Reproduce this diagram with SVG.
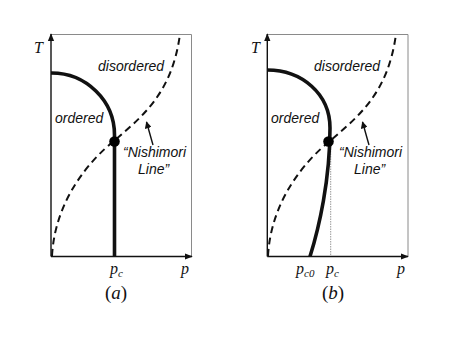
<svg xmlns="http://www.w3.org/2000/svg" width="450" height="344" viewBox="0 0 450 344">
<defs>
<style>
.frame{fill:none;stroke:#8a8a8a;stroke-width:1}
.axis{fill:none;stroke:#111;stroke-width:1.4}
.phase{fill:none;stroke:#111;stroke-width:3.6;stroke-linecap:butt}
.nish{fill:none;stroke:#111;stroke-width:2;stroke-dasharray:7,4.5}
.dot{fill:#000}
.guide{fill:none;stroke:#999;stroke-width:1;stroke-dasharray:1.5,1}
.lbl{font-family:"Liberation Sans",Arial,sans-serif;font-style:italic;font-size:14px;fill:#111}
.math{font-family:"Liberation Serif","Times New Roman",serif;font-style:italic;font-size:16px;fill:#111}
.sub{font-size:11px}
.cap{font-family:"Liberation Serif","Times New Roman",serif;font-size:19px;fill:#111}
.ptr{fill:none;stroke:#111;stroke-width:1.4}
</style>
<marker id="ah" viewBox="0 0 10 10" refX="9" refY="5" markerWidth="7" markerHeight="7" markerUnits="userSpaceOnUse" orient="auto">
<path d="M0,0 L10,5 L0,10 z" fill="#111"/>
</marker>
<marker id="ax" viewBox="0 0 10 10" refX="9" refY="5" markerWidth="8" markerHeight="8" markerUnits="userSpaceOnUse" orient="auto">
<path d="M0,1 L10,5 L0,9 z" fill="#111"/>
</marker>
</defs>

<g id="panel-a">
<g id="a-frame">
<path class="frame" d="M51,34.5 H191.5 V256.5"/>
<line class="axis" x1="51" y1="256.5" x2="51" y2="34" marker-end="url(#ax)"/>
<line class="axis" x1="51" y1="256.5" x2="192" y2="256.5" marker-end="url(#ax)"/>
</g>
<g id="a-connectors">
<path class="nish" d="M52,256 C55,200 90,160 114,141 C140,118 172,95 180,34"/>
<path class="phase" d="M51,73 A63,62 0 0 1 114.5,135 V256.5"/>
<line class="ptr" x1="153" y1="145" x2="146.5" y2="122" marker-end="url(#ah)"/>
</g>
<g id="a-critical"><circle class="dot" cx="114.5" cy="141.5" r="5.3"/></g>
<g id="a-labels">
<text class="math" x="34" y="53">T</text>
<text class="lbl" x="98" y="71">disordered</text>
<text class="lbl" x="55" y="123">ordered</text>
<text class="lbl" x="123" y="157">“Nishimori</text>
<text class="lbl" x="138" y="174">Line”</text>
<text class="math" x="110" y="274">p<tspan class="sub" dy="3">c</tspan></text>
<text class="math" x="181" y="274">p</text>
<text class="cap" x="105" y="299">(<tspan font-style="italic">a</tspan>)</text>
</g>
</g>

<g id="panel-b">
<g id="b-frame">
<path class="frame" d="M267.3,34.5 H408 V256.5"/>
<line class="axis" x1="267.3" y1="256.5" x2="267.3" y2="34" marker-end="url(#ax)"/>
<line class="axis" x1="267.3" y1="256.5" x2="408" y2="256.5" marker-end="url(#ax)"/>
</g>
<g id="b-connectors">
<line class="guide" x1="330.7" y1="146" x2="330.7" y2="256"/>
<path class="nish" d="M268,256 C271,200 306,160 330,141 C356,118 388,95 396,34"/>
<path class="phase" d="M267.3,70 C302,70 330,94 330,128 C330,180 319,228 310,256.5"/>
<line class="ptr" x1="369" y1="145" x2="362.5" y2="122" marker-end="url(#ah)"/>
</g>
<g id="b-critical"><circle class="dot" cx="328.5" cy="141.5" r="5.3"/></g>
<g id="b-labels">
<text class="math" x="251" y="53">T</text>
<text class="lbl" x="314" y="71">disordered</text>
<text class="lbl" x="271" y="123">ordered</text>
<text class="lbl" x="339" y="157">“Nishimori</text>
<text class="lbl" x="354" y="174">Line”</text>
<text class="math" x="296" y="274">p<tspan class="sub" dy="3">c0</tspan></text>
<text class="math" x="326" y="274">p<tspan class="sub" dy="3">c</tspan></text>
<text class="math" x="397" y="274">p</text>
<text class="cap" x="322" y="299">(<tspan font-style="italic">b</tspan>)</text>
</g>
</g>
</svg>
